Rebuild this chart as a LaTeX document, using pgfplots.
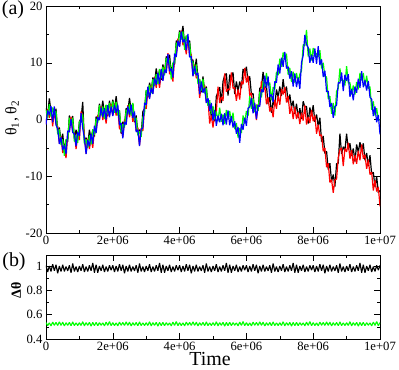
\documentclass[border=0pt]{standalone}
\usepackage{fontspec}
\setmainfont{Liberation Serif}
\usepackage{pgfplots}
\usepackage{pgfplotstable}
\pgfplotsset{compat=1.18}

\pgfplotstableread{
t bk rd gr bl
0.00 2.0 -0.8 1.7 -0.9
0.05 0.7 1.8 0.2 1.6
0.10 3.7 0.3 2.7 0.8
0.15 1.4 1.7 0.5 2.4
0.20 2.0 -1.2 2.1 -0.5
0.25 0.4 1.6 0.7 2.3
0.30 1.9 -0.8 1.5 -1.0
0.35 -2.2 -1.2 -2.6 -1.6
0.40 -1.4 -4.2 -1.7 -4.3
0.45 -4.0 -2.9 -4.5 -3.1
0.50 -2.5 -5.9 -3.5 -5.4
0.55 -5.5 -5.2 -6.4 -4.5
0.60 -3.6 -6.8 -3.5 -6.1
0.65 -3.9 -2.7 -3.6 -2.0
0.70 0.7 -2.0 0.3 -2.2
0.75 -0.5 0.5 -0.9 0.1
0.80 0.6 -2.2 0.3 -2.3
0.85 -3.4 -2.3 -3.9 -2.5
0.90 -1.8 -5.2 -2.8 -4.7
0.95 -3.2 -2.9 -4.1 -2.2
1.00 -0.4 -3.6 -0.3 -2.9
1.05 0.2 1.4 -0.5 1.1
1.10 3.1 0.4 0.9 -1.6
1.15 -3.9 -2.9 -4.3 -3.3
1.20 -3.2 -6.0 -3.5 -6.1
1.25 -4.5 -3.4 -5.0 -3.6
1.30 -1.8 -5.2 -2.8 -4.7
1.35 -3.5 -3.2 -4.4 -2.5
1.40 -1.8 -5.0 -1.7 -4.3
1.45 -3.0 -1.8 -2.7 -1.1
1.50 0.5 -2.2 0.1 -2.4
1.55 -0.2 0.8 -0.6 0.4
1.60 2.8 0.0 2.5 -0.1
1.65 1.2 2.3 0.7 2.1
1.70 3.3 -0.1 2.3 0.4
1.75 1.0 1.3 0.1 2.0
1.80 2.5 -0.7 2.6 0.0
1.85 0.6 1.8 0.9 2.5
1.90 3.3 0.6 2.9 0.4
1.95 1.7 2.7 1.3 2.3
2.00 3.5 0.7 3.2 0.6
2.05 1.7 2.8 1.2 2.6
2.10 4.1 0.7 3.1 1.2
2.15 1.6 1.9 0.7 2.6
2.20 1.5 -1.7 1.6 -1.0
2.25 -2.5 -1.3 -2.2 -0.6
2.30 -0.4 -3.1 -0.8 -3.3
2.35 -1.0 0.0 -1.4 -0.4
2.40 2.0 -0.8 1.7 -0.9
2.45 1.4 2.5 0.9 2.3
2.50 3.8 0.4 2.8 0.9
2.55 1.6 1.9 0.7 2.6
2.60 2.8 -0.4 2.9 0.3
2.65 -0.5 0.7 -0.2 1.4
2.70 0.7 -2.0 0.3 -2.2
2.75 -2.4 -1.4 -2.8 -1.8
2.80 -1.8 -4.6 -2.1 -4.7
2.85 -2.6 -1.5 -3.1 -1.7
2.90 1.4 -2.0 0.4 -1.5
2.95 1.9 2.2 1.0 2.9
3.00 5.1 1.9 5.2 2.6
3.05 3.9 5.1 4.2 5.8
3.10 6.5 3.8 6.1 3.6
3.15 5.0 6.0 4.6 5.6
3.20 7.4 4.6 7.1 4.5
3.25 6.4 7.5 5.9 7.3
3.30 9.0 5.6 8.0 6.1
3.35 7.2 7.5 6.3 8.2
3.40 8.8 5.6 8.9 6.3
3.45 7.0 8.2 7.3 8.9
3.50 9.7 7.0 9.3 6.8
3.55 8.2 9.2 7.8 8.8
3.60 11.1 8.3 10.8 8.2
3.65 10.6 11.7 10.1 11.5
3.70 11.4 8.0 10.4 8.5
3.75 8.0 8.3 7.1 9.0
3.80 9.9 6.7 10.0 7.4
3.85 9.7 10.9 10.0 11.6
3.90 13.9 11.2 13.5 11.0
3.95 13.3 14.3 12.9 13.9
4.00 15.7 12.9 15.4 12.8
4.05 14.6 15.7 14.1 15.5
4.10 16.5 13.1 15.5 13.6
4.15 13.2 13.5 12.3 14.2
4.20 14.7 11.5 14.8 12.2
4.25 13.2 14.4 13.5 15.1
4.30 13.9 11.2 13.5 11.0
4.35 10.5 11.5 10.1 11.1
4.40 10.5 7.7 10.2 7.6
4.45 8.5 9.6 8.0 9.4
4.50 10.7 7.3 9.7 7.8
4.55 7.2 7.5 6.3 8.2
4.60 7.0 3.8 7.1 4.5
4.65 4.8 6.0 5.1 6.7
4.70 7.6 4.9 7.2 4.7
4.75 5.0 6.0 4.6 5.6
4.80 5.8 3.0 5.5 2.9
4.85 2.5 3.6 2.4 3.8
4.90 2.7 -0.7 3.4 1.5
4.95 0.4 0.7 1.0 2.9
5.00 1.8 -1.4 2.4 -0.2
5.05 -0.3 0.9 0.1 1.7
5.10 4.1 1.4 1.4 -1.1
5.15 4.8 5.8 -0.3 0.7
5.20 5.7 2.9 2.1 -0.5
5.25 2.9 4.0 -0.4 1.0
5.30 6.7 3.3 0.9 -1.0
5.35 7.8 8.1 -0.8 1.1
5.40 8.1 4.9 1.7 -0.9
5.45 4.2 5.4 0.0 1.6
5.50 7.9 5.2 1.5 -1.0
5.55 7.3 8.3 -0.4 0.6
5.60 8.3 5.5 1.2 -1.4
5.65 4.5 5.6 -1.7 -0.3
5.70 6.7 3.3 -0.6 -2.5
5.75 5.0 5.3 -3.2 -1.3
5.80 6.7 3.5 -1.5 -4.1
5.85 5.5 6.7 -2.4 -0.8
5.90 8.9 6.2 0.7 -1.8
5.95 8.1 9.1 -0.7 0.3
6.00 9.3 6.5 1.5 -1.1
6.05 6.6 7.7 0.6 2.0
6.10 7.6 4.2 4.1 2.2
6.15 4.4 4.7 1.9 3.8
6.20 4.6 1.4 3.7 1.1
6.25 1.3 2.5 1.3 2.9
6.30 2.6 -0.1 2.6 0.1
6.35 1.6 2.6 1.5 2.5
6.40 5.5 2.7 4.9 2.3
6.45 5.7 6.8 3.9 5.3
6.50 8.4 5.0 6.7 4.8
6.55 5.6 5.9 5.8 7.7
6.60 5.9 2.7 8.2 5.6
6.65 2.7 3.9 6.0 7.6
6.70 4.1 1.4 6.5 4.0
6.75 1.2 2.2 3.4 4.4
6.80 3.2 0.4 5.7 3.1
6.85 2.4 3.5 5.3 6.7
6.90 5.3 1.9 8.4 6.5
6.95 3.9 4.2 7.8 9.7
7.00 5.8 2.6 10.7 8.1
7.05 4.2 5.4 9.3 10.9
7.10 7.1 4.4 11.8 9.3
7.15 4.7 5.7 10.9 11.9
7.20 5.8 3.0 11.6 9.0
7.25 3.0 4.1 7.9 9.3
7.30 4.4 1.0 9.1 7.2
7.35 2.1 2.4 6.6 8.5
7.40 3.3 0.1 8.4 5.8
7.45 1.0 2.2 6.5 8.1
7.50 2.8 0.1 8.2 5.7
7.55 0.3 1.3 6.4 7.4
7.60 2.0 -0.8 8.0 5.4
7.65 0.1 1.2 8.6 10.0
7.70 3.2 -0.2 13.2 11.3
7.75 2.2 2.5 13.0 14.9
7.80 2.3 -0.9 15.8 13.2
7.85 -0.7 0.5 11.1 12.7
7.90 2.1 -0.6 12.5 10.0
7.95 0.7 1.7 10.4 11.4
8.00 2.5 -0.3 12.6 10.0
8.05 -0.4 0.7 11.1 12.5
8.10 0.9 -2.5 11.7 9.8
8.15 -1.2 -0.9 11.0 12.9
8.20 0.3 -2.9 12.2 9.6
8.25 -3.9 -2.7 9.0 10.6
8.30 -2.9 -5.6 10.0 7.5
8.35 -6.0 -5.0 7.6 8.6
8.40 -5.6 -8.4 7.5 4.9
8.45 -8.8 -7.7 3.6 5.0
8.50 -7.7 -11.1 4.1 2.2
8.55 -10.9 -10.6 1.0 2.9
8.60 -9.7 -12.9 2.9 0.3
8.65 -11.8 -10.6 0.7 2.3
8.70 -7.8 -10.5 5.0 2.5
8.75 -7.7 -6.7 5.5 6.5
8.80 -2.5 -5.3 9.0 6.4
8.85 -6.1 -5.0 6.9 8.3
8.90 -4.8 -8.2 6.9 5.0
8.95 -5.4 -5.1 6.0 7.9
9.00 -2.5 -5.7 9.4 6.8
9.05 -5.3 -4.1 6.4 8.0
9.10 -4.2 -6.9 6.5 4.0
9.15 -6.4 -5.4 4.4 5.4
9.20 -5.1 -7.9 6.0 3.4
9.25 -7.4 -6.3 4.4 5.8
9.30 -4.4 -7.8 6.6 4.7
9.35 -5.8 -5.5 5.3 7.2
9.40 -4.0 -7.2 8.2 5.6
9.45 -5.6 -4.4 6.9 8.5
9.50 -4.2 -6.9 8.2 5.7
9.55 -7.2 -6.2 5.9 6.9
9.60 -5.9 -8.7 7.7 5.1
9.65 -8.2 -7.1 5.4 6.8
9.70 -6.3 -9.7 5.8 3.9
9.75 -9.6 -9.3 1.7 3.6
9.80 -9.3 -12.5 3.2 0.6
9.85 -11.9 -10.7 0.7 2.3
9.90 -10.0 -12.7 2.0 -0.5
9.95 -12.9 -11.9 -0.2 0.8
10.00 -12.5 -15.3 0.0 -2.6
}\thetab

\pgfplotstableread{
t d1 d2
0.00 1.005 0.535
0.05 0.950 0.510
0.10 1.000 0.533
0.15 0.955 0.508
0.20 1.015 0.539
0.25 0.960 0.513
0.30 1.010 0.536
0.35 0.940 0.511
0.40 1.000 0.541
0.45 0.955 0.512
0.50 1.010 0.538
0.55 0.955 0.507
0.60 0.995 0.534
0.65 0.960 0.512
0.70 1.005 0.536
0.75 0.945 0.509
0.80 1.020 0.540
0.85 0.955 0.510
0.90 0.995 0.533
0.95 0.950 0.511
1.00 1.000 0.534
1.05 0.960 0.511
1.10 1.015 0.542
1.15 0.950 0.508
1.20 0.995 0.535
1.25 0.955 0.512
1.30 1.005 0.537
1.35 0.960 0.506
1.40 1.025 0.536
1.45 0.945 0.510
1.50 1.010 0.537
1.55 0.945 0.509
1.60 1.000 0.535
1.65 0.960 0.513
1.70 1.010 0.533
1.75 0.950 0.508
1.80 0.995 0.539
1.85 0.955 0.511
1.90 1.005 0.544
1.95 0.965 0.509
2.00 1.005 0.535
2.05 0.950 0.510
2.10 1.000 0.533
2.15 0.955 0.508
2.20 1.015 0.539
2.25 0.960 0.513
2.30 1.010 0.536
2.35 0.940 0.511
2.40 1.000 0.541
2.45 0.955 0.512
2.50 1.010 0.538
2.55 0.955 0.507
2.60 0.995 0.534
2.65 0.960 0.512
2.70 1.005 0.536
2.75 0.945 0.509
2.80 1.020 0.540
2.85 0.955 0.510
2.90 0.995 0.533
2.95 0.950 0.511
3.00 1.000 0.534
3.05 0.960 0.511
3.10 1.015 0.542
3.15 0.950 0.508
3.20 0.995 0.535
3.25 0.955 0.512
3.30 1.005 0.537
3.35 0.960 0.506
3.40 1.025 0.536
3.45 0.945 0.510
3.50 1.010 0.537
3.55 0.945 0.509
3.60 1.000 0.535
3.65 0.960 0.513
3.70 1.010 0.533
3.75 0.950 0.508
3.80 0.995 0.539
3.85 0.955 0.511
3.90 1.005 0.544
3.95 0.965 0.509
4.00 1.005 0.535
4.05 0.950 0.510
4.10 1.000 0.533
4.15 0.955 0.508
4.20 1.015 0.539
4.25 0.960 0.513
4.30 1.010 0.536
4.35 0.940 0.511
4.40 1.000 0.541
4.45 0.955 0.512
4.50 1.010 0.538
4.55 0.955 0.507
4.60 0.995 0.534
4.65 0.960 0.512
4.70 1.005 0.536
4.75 0.945 0.509
4.80 1.020 0.540
4.85 0.955 0.510
4.90 0.995 0.533
4.95 0.950 0.511
5.00 1.000 0.534
5.05 0.960 0.511
5.10 1.015 0.542
5.15 0.950 0.508
5.20 0.995 0.535
5.25 0.955 0.512
5.30 1.005 0.537
5.35 0.960 0.506
5.40 1.025 0.536
5.45 0.945 0.510
5.50 1.010 0.537
5.55 0.945 0.509
5.60 1.000 0.535
5.65 0.960 0.513
5.70 1.010 0.533
5.75 0.950 0.508
5.80 0.995 0.539
5.85 0.955 0.511
5.90 1.005 0.544
5.95 0.965 0.509
6.00 1.005 0.535
6.05 0.950 0.510
6.10 1.000 0.533
6.15 0.955 0.508
6.20 1.015 0.539
6.25 0.960 0.513
6.30 1.010 0.536
6.35 0.940 0.511
6.40 1.000 0.541
6.45 0.955 0.512
6.50 1.010 0.538
6.55 0.955 0.507
6.60 0.995 0.534
6.65 0.960 0.512
6.70 1.005 0.536
6.75 0.945 0.509
6.80 1.020 0.540
6.85 0.955 0.510
6.90 0.995 0.533
6.95 0.950 0.511
7.00 1.000 0.534
7.05 0.960 0.511
7.10 1.015 0.542
7.15 0.950 0.508
7.20 0.995 0.535
7.25 0.955 0.512
7.30 1.005 0.537
7.35 0.960 0.506
7.40 1.025 0.536
7.45 0.945 0.510
7.50 1.010 0.537
7.55 0.945 0.509
7.60 1.000 0.535
7.65 0.960 0.513
7.70 1.010 0.533
7.75 0.950 0.508
7.80 0.995 0.539
7.85 0.955 0.511
7.90 1.005 0.544
7.95 0.965 0.509
8.00 1.005 0.535
8.05 0.950 0.510
8.10 1.000 0.533
8.15 0.955 0.508
8.20 1.015 0.539
8.25 0.960 0.513
8.30 1.010 0.536
8.35 0.940 0.511
8.40 1.000 0.541
8.45 0.955 0.512
8.50 1.010 0.538
8.55 0.955 0.507
8.60 0.995 0.534
8.65 0.960 0.512
8.70 1.005 0.536
8.75 0.945 0.509
8.80 1.020 0.540
8.85 0.955 0.510
8.90 0.995 0.533
8.95 0.950 0.511
9.00 1.000 0.534
9.05 0.960 0.511
9.10 1.015 0.542
9.15 0.950 0.508
9.20 0.995 0.535
9.25 0.955 0.512
9.30 1.005 0.537
9.35 0.960 0.506
9.40 1.025 0.536
9.45 0.945 0.510
9.50 1.010 0.537
9.55 0.945 0.509
9.60 1.000 0.535
9.65 0.960 0.513
9.70 1.010 0.533
9.75 0.950 0.508
9.80 0.995 0.539
9.85 0.955 0.511
9.90 1.005 0.544
9.95 0.965 0.509
10.00 1.005 0.535
}\dtab

\begin{document}
\begin{tikzpicture}
\pgfplotsset{
  every axis/.append style={
    scale only axis, width=334bp,
    xmin=0, xmax=10,
    tick align=inside,
    major tick length=6bp, minor tick length=3bp,
    xtick={0,2,4,6,8,10},
    xticklabels={0,2e+06,4e+06,6e+06,8e+06,1e+07},
    minor x tick num=1,
    tick label style={font=\rmfamily\fontsize{12.7}{14}\selectfont},
    axis line style={line width=0.6pt},
    every tick/.style={black, line width=0.4pt},
  },
}
\begin{axis}[at={(0bp,0bp)}, anchor=north west, height=227bp,
  ymin=-20, ymax=20, ytick={-20,-10,0,10,20},
  yticklabels={-20,-10,0,10,20}, minor y tick num=1]
\addplot[black, line width=1.2pt, line join=bevel] table[x=t,y=bk]{\thetab};
\addplot[red, line width=1.2pt, line join=bevel] table[x=t,y=rd]{\thetab};
\addplot[green, line width=1.2pt, line join=bevel] table[x=t,y=gr]{\thetab};
\addplot[blue, line width=1.2pt, line join=bevel] table[x=t,y=bl]{\thetab};
\end{axis}
\begin{axis}[at={(0bp,-249bp)}, anchor=north west, height=84bp,
  ymin=0.4, ymax=1.09, ytick={0.4,0.6,0.8,1},
  yticklabels={0.4,0.6,0.8,1}, minor y tick num=1]
\addplot[black, line width=1.1pt, line join=bevel] table[x=t,y=d1]{\dtab};
\addplot[green, line width=1.1pt, line join=bevel] table[x=t,y=d2]{\dtab};
\end{axis}
\node[font=\fontsize{20}{24}\selectfont] at (-33bp,-4bp) {(a)};
\node[font=\fontsize{20}{24}\selectfont] at (-32bp,-256bp) {(b)};
\node[font=\fontsize{16}{18}\selectfont, rotate=90] at (-34bp,-112bp) {θ\textsubscript{1}, θ\textsubscript{2}};
\node[font=\fontsize{14}{16}\selectfont\bfseries, rotate=90] at (-30bp,-284bp) {Δθ};
\node[font=\fontsize{20}{24}\selectfont] at (164bp,-353bp) {Time};
\pgfresetboundingbox
\path (-46bp,6bp) rectangle (353bp,-364bp);
\end{tikzpicture}
\end{document}
